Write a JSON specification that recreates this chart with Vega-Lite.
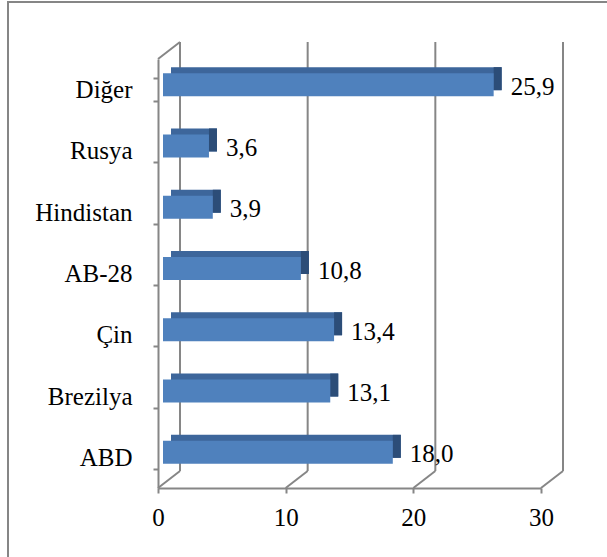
{
  "$schema": "https://vega.github.io/schema/vega-lite/v6.json",
  "width": 602,
  "height": 558,
  "autosize": {"type": "none"},
  "padding": {"left": 8, "top": 2, "right": -3, "bottom": -3},
  "background": "white",
  "config": {
    "view": {"stroke": "#868686", "strokeWidth": 2},
    "font": "Times New Roman, Liberation Serif, serif",
    "locale": {"number": {"decimal": ",", "thousands": ".", "grouping": [3], "currency": ["", ""]}}
  },
  "layer": [
    {
      "data": {"values": [{"v": 0}, {"v": 10}, {"v": 20}, {"v": 30}]},
      "encoding": {
        "x": {
          "field": "v", "type": "quantitative", "title": null,
          "scale": {"domain": [0, 30], "range": [150, 533], "nice": false, "zero": true},
          "axis": {"values": [0, 10, 20, 30], "grid": false, "offset": -72, "domainColor": "#868686", "domainWidth": 2, "tickColor": "#868686", "tickWidth": 2, "tickSize": 5, "labelFont": "Times New Roman, Liberation Serif, serif", "labelFontSize": 25, "labelFontWeight": "normal", "labelColor": "black", "labelPadding": 12, "labelFlush": false}
        }
      },
      "layer": [
        {
          "mark": {"type": "rule", "color": "#868686", "strokeWidth": 2, "xOffset": 22, "yOffset": -17, "y2Offset": -17},
          "encoding": {
            "y": {"datum": 0, "type": "quantitative", "scale": {"domain": [0, 1], "range": [486, 57], "nice": false, "zero": false}, "axis": null},
            "y2": {"datum": 1}
          }
        },
        {
          "mark": {"type": "rule", "color": "#868686", "strokeWidth": 2, "x2Offset": 22, "y2Offset": -17},
          "encoding": {
            "x2": {"field": "v"},
            "y": {"datum": 0, "type": "quantitative", "scale": {"domain": [0, 1], "range": [486, 57], "nice": false, "zero": false}, "axis": null},
            "y2": {"datum": 0}
          }
        },
        {
          "transform": [{"filter": "datum.v == 0"}],
          "mark": {"type": "rule", "color": "#868686", "strokeWidth": 2, "x2Offset": 22, "y2Offset": -17},
          "encoding": {
            "x2": {"field": "v"},
            "y": {"datum": 1, "type": "quantitative", "scale": {"domain": [0, 1], "range": [486, 57], "nice": false, "zero": false}, "axis": null},
            "y2": {"datum": 1}
          }
        }
      ]
    },
    {
      "data": {"values": [
        {"ulke": "Diğer", "deger": 25.9},
        {"ulke": "Rusya", "deger": 3.6},
        {"ulke": "Hindistan", "deger": 3.9},
        {"ulke": "AB-28", "deger": 10.8},
        {"ulke": "Çin", "deger": 13.4},
        {"ulke": "Brezilya", "deger": 13.1},
        {"ulke": "ABD", "deger": 18.0}
      ]},
      "encoding": {
        "y": {
          "field": "ulke", "type": "nominal", "sort": null, "title": null,
          "scale": {"range": [57, 486], "paddingInner": 0.625, "paddingOuter": 0.3125},
          "axis": {"grid": false, "offset": -150, "tickBand": "extent", "domainColor": "#868686", "domainWidth": 2, "tickColor": "#868686", "tickWidth": 2, "tickSize": 5, "labelFont": "Times New Roman, Liberation Serif, serif", "labelFontSize": 25, "labelFontWeight": "normal", "labelColor": "black", "labelPadding": 21}
        },
        "x": {
          "field": "deger", "type": "quantitative", "title": null,
          "scale": {"domain": [0, 30], "range": [150, 533], "nice": false, "zero": true},
          "axis": {"values": [0, 10, 20, 30], "grid": false, "offset": -72, "domainColor": "#868686", "domainWidth": 2, "tickColor": "#868686", "tickWidth": 2, "tickSize": 5, "labelFont": "Times New Roman, Liberation Serif, serif", "labelFontSize": 25, "labelFontWeight": "normal", "labelColor": "black", "labelPadding": 12, "labelFlush": false}
        }
      },
      "layer": [
        {"mark": {"type": "bar", "color": "#3D669B", "xOffset": 13, "x2Offset": 13, "yOffset": -11}},
        {
          "mark": {"type": "bar", "color": "#2C4D78", "xOffset": 13, "x2Offset": 5, "yOffset": -11},
          "encoding": {"x2": {"field": "deger"}}
        },
        {"mark": {"type": "bar", "color": "#4F81BD", "xOffset": 5, "x2Offset": 5, "yOffset": -5}},
        {
          "mark": {"type": "text", "align": "left", "baseline": "middle", "dx": 22, "dy": -3, "font": "Times New Roman, Liberation Serif, serif", "fontSize": 25, "fontWeight": "normal", "color": "black"},
          "encoding": {"text": {"field": "deger", "type": "quantitative", "format": ".1f"}}
        }
      ]
    }
  ],
  "resolve": {"scale": {"y": "independent"}, "axis": {"y": "independent"}}
}
